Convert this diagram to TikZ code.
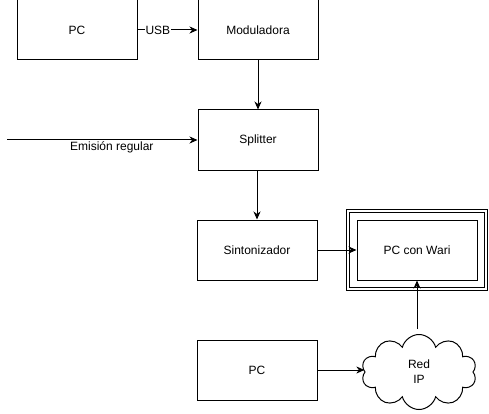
\documentclass[tikz,border=0pt]{standalone}
\usepackage{fontspec}
\setmainfont{Liberation Sans}
\usepackage{tikz}
\usetikzlibrary{positioning,shapes.symbols,arrows.meta}

\tikzset{
  box/.style={draw, minimum width=120pt, minimum height=60pt, inner sep=0pt},
  arr/.style={-{Stealth[length=8pt,width=7pt,inset=2.5pt]}},
  lbl/.style={fill=white, inner sep=1pt}
}

\begin{document}
\begin{tikzpicture}[x=1pt, y=-1pt, line width=1pt,
    font=\fontsize{12}{15}\selectfont]
    \useasboundingbox (0,0) rectangle (489,414);
    % blocks
    \node[box] (pc)    at (77,30)   {PC};
    \node[box] (mod)   at (258,30)  {Moduladora};
    \node[box] (split) at (258,140) {Splitter};
    \node[box] (sint)  at (257,250) {Sintonizador};
    \node[box] (wari)  at (417,250) {PC con Wari};
    \node[box] (pcb)   at (257,370) {PC};
    \node[draw, cloud, cloud puffs=10, aspect=1.5, inner sep=0pt,
      minimum width=115pt, minimum height=75pt, align=center] (red) at (419,372) {Red\\IP};
    % frame round PC con Wari
    \draw ([shift={(-10,-10)}]wari.north west) rectangle ([shift={(10,10)}]wari.south east);
    \draw ([shift={(-7,-7)}]wari.north west) rectangle ([shift={(7,7)}]wari.south east);
    % connectors
    \coordinate (src) at (7,140);
    \draw[arr] (pc) -- node[lbl, pos=0.34] {USB} (mod);
    \draw[arr] (mod) -- (split);
    \draw[arr] (src) -- node[pos=0.55, yshift=-7pt] {Emisión regular} (split);
    \draw[arr] (split.south -| sint) -- (sint);
    \draw[arr] (sint) -- (wari);
    \draw[arr] (pcb) -- (pcb -| red.west);
    \draw[arr] ([yshift=5pt]red.north -| wari.south) -- (wari.south);
  \end{tikzpicture}
\end{document}
